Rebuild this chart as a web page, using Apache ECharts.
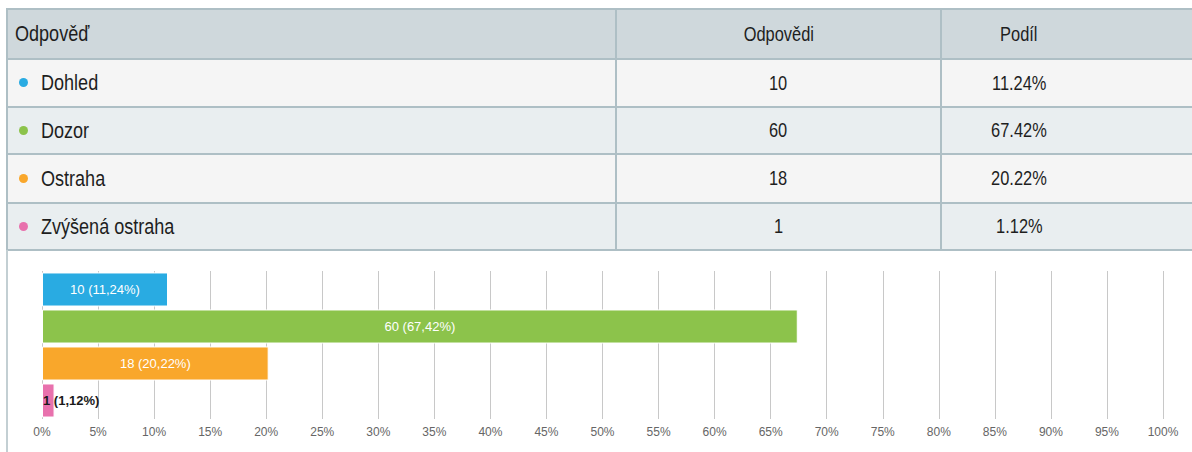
<!DOCTYPE html>
<html>
<head>
<meta charset="utf-8">
<script src="https://cdn.jsdelivr.net/npm/echarts@6/dist/echarts.min.js"></script>
<style>
  html, body { margin: 0; padding: 0; width: 1192px; height: 452px; overflow: hidden; background: #fff; }
  #tbl { position: absolute; left: 6px; top: 8px; border-collapse: collapse; table-layout: fixed; width: 1236px;
         font-family: "Liberation Sans", Arial, sans-serif; color: #1e1e1e; }
  #tbl td { border: 2px solid #aebfc5; padding: 0; vertical-align: middle; white-space: nowrap; }
  #tbl tr.h td { background: #cfd8dc; }
  #tbl tr.r0 td { background: #f5f5f5; }
  #tbl tr.r1 td { background: #e9eef0; }
  #tbl td.c1 { padding-left: 7px; text-align: left; font-size: 22px; }
  #tbl td.c2 { text-align: center; font-size: 20px; }
  #tbl td.c3 { text-align: center; padding-right: 144px; font-size: 20px; }
  .t { display: inline-block; transform: scaleX(0.82); }
  td.c1 .t { transform-origin: left center; }
  td.c2 .t, td.c3 .t { transform-origin: center center; }
  .dot { display: inline-block; width: 9px; height: 9px; border-radius: 50%; margin: 0 13px 0 4px; vertical-align: 3px; }
  #leftline { position: absolute; left: 6px; top: 250px; width: 2px; height: 202px; background: #c3cfd3; }
  #chart { position: absolute; left: 0; top: 250px; width: 1192px; height: 202px; }
</style>
</head>
<body>
<table id="tbl"><tbody id="tb"></tbody></table>
<div id="leftline"></div>
<div id="chart"></div>
<script>
const headers = ["Odpověď", "Odpovědi", "Podíl"];
const categories = ["Dohled", "Dozor", "Ostraha", "Zvýšená ostraha"];
const counts = [10, 60, 18, 1];
const shares = [11.24, 67.42, 20.22, 1.12];
const colors = ["#29abe2", "#8cc34b", "#f9a72b", "#e871ad"];
const xTicks = [0, 5, 10, 15, 20, 25, 30, 35, 40, 45, 50, 55, 60, 65, 70, 75, 80, 85, 90, 95, 100];

// table
const tb = document.getElementById('tb');
const rowHeights = [46, 45, 47, 45];
const sp = s => '<span class="t">' + s + '</span>';
let html = '<tr class="h"><td class="c1" style="width:600px;height:48px">' + sp(headers[0]) + '</td><td class="c2" style="width:323px">' + sp(headers[1]) + '</td><td class="c3">' + sp(headers[2]) + '</td></tr>';
categories.forEach((c, i) => {
  html += '<tr class="r' + (i % 2) + '"><td class="c1" style="height:' + rowHeights[i] + 'px"><span class="dot" style="background:' + colors[i] + '"></span>' + sp(c) +
    '</td><td class="c2">' + sp(String(counts[i])) + '</td><td class="c3">' + sp(shares[i].toFixed(2) + '%') + '</td></tr>';
});
tb.innerHTML = html;

// chart
const chart = echarts.init(document.getElementById('chart'), null, { renderer: 'svg' });
const fmt = v => v.toFixed(2).replace('.', ',');
chart.setOption({
  animation: false,
  grid: { left: 42, right: 29, top: 21, bottom: 33 },
  xAxis: {
    type: 'value', min: 0, max: 100, interval: 5,
    axisLine: { show: false }, axisTick: { show: false },
    splitLine: { lineStyle: { color: '#c8c8c8', width: 1 } },
    axisLabel: { formatter: v => v + '%', color: '#666666', fontSize: 12, fontFamily: 'Liberation Sans', margin: 7 }
  },
  yAxis: {
    type: 'category', data: categories, inverse: true,
    axisLine: { show: false }, axisTick: { show: false }, axisLabel: { show: false }
  },
  series: [{
    type: 'bar',
    barCategoryGap: '8%',
    data: shares.map((v, i) => {
      const small = v < 5;
      return {
        value: v,
        itemStyle: { color: colors[i], borderColor: '#ffffff', borderWidth: 1 },
        label: small ? { position: 'insideLeft', distance: 1, color: '#1a1a1a', fontWeight: 'bold' } : {}
      };
    }),
    label: {
      show: true, position: 'inside', color: '#ffffff', fontSize: 13, fontFamily: 'Liberation Sans',
      formatter: p => counts[p.dataIndex] + ' (' + fmt(shares[p.dataIndex]) + '%)'
    }
  }]
});
</script>
</body>
</html>
